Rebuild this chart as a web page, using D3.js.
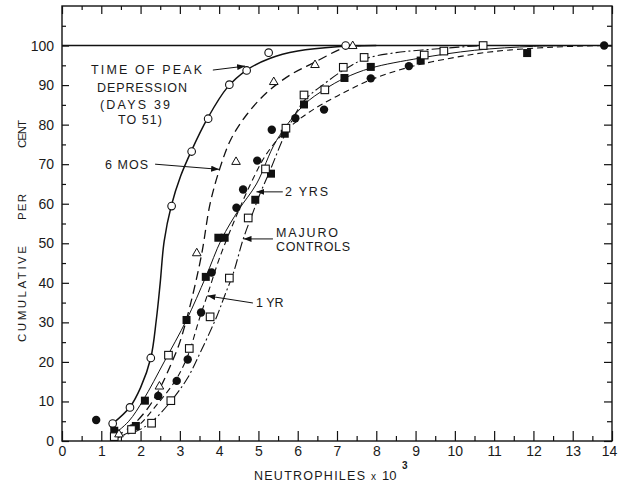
<!DOCTYPE html>
<html>
<head>
<meta charset="utf-8">
<script src="https://cdn.jsdelivr.net/npm/d3@7"></script>
<style>
  body { margin: 0; background: #fff; }
  svg { display: block; }
  text { font-family: "Liberation Sans", "DejaVu Sans", sans-serif; fill: #1a1a1a; }
</style>
</head>
<body>
<div id="chart"></div>
<script>
// observed points, [neutrophiles x10^3, cumulative %]
const peakPts = [[1.29,4.4],[1.73,8.5],[2.26,21],[2.79,59.4],[3.3,73.2],[3.72,81.5],[4.26,90.1],[4.7,93.7],[5.26,98.2],[7.22,100]];
const sixMosPts = [[1.45,1.8],[2.48,13.9],[3.43,47.6],[4.43,70.7],[5.39,90.9],[6.44,95.2],[7.4,100]];
const oneYrPts = [[0.87,5.3],[1.78,3.2],[2.45,11.4],[2.92,15.2],[3.2,20.6],[3.54,32.5],[3.81,42.6],[4.44,59],[4.61,63.6],[4.97,70.9],[5.34,78.7],[5.94,81.6],[6.67,83.8],[7.86,91.7],[8.83,94.8],[13.8,100]];
const twoYrPts = [[1.33,2.6],[1.88,3.8],[2.11,10.2],[3.17,30.6],[3.66,41.5],[3.98,51.4],[4.14,51.4],[4.92,61],[5.32,67.6],[5.67,77.7],[6.16,85.1],[7.19,91.8],[7.86,94.6],[9.13,96.2],[11.84,98.1]];
const majuroPts = [[1.33,1.1],[1.77,2.9],[2.28,4.5],[2.77,10.2],[2.71,21.7],[3.24,23.4],[3.77,31.4],[4.26,41.2],[4.74,56.4],[5.18,68.8],[5.7,79.1],[6.16,87.5],[6.69,88.8],[7.16,94.5],[7.69,97],[9.22,97.6],[9.72,98.6],[10.72,100]];

// fitted curves as drawn
const peakCurve = [[1.29,4.4],[1.73,8.6],[2.0,13.5],[2.26,21],[2.4,30.6],[2.5,40],[2.6,50.5],[2.78,59.4],[3.02,67],[3.3,73.5],[3.7,81.5],[4.2,89.3],[4.7,93.8],[5.3,96.8],[6.0,98.6],[7.0,99.7],[8.0,100]];
const sixMosCurve = [[1.35,1],[1.8,4],[2.2,8.5],[2.5,13.5],[2.8,20],[3.0,25],[3.28,35],[3.55,47],[3.77,60],[4.02,69],[4.3,76.3],[4.7,82.5],[5.2,88],[5.8,92.5],[6.4,95.6],[7.2,99.5],[7.6,100]];
const oneYrCurve = [[1.35,0.5],[1.9,3.5],[2.4,9],[2.9,15.5],[3.2,21.5],[3.5,31],[3.72,37.5],[4.0,46],[4.4,56],[4.8,65],[5.2,72.5],[5.7,78.5],[6.3,83.2],[7.0,87.2],[7.9,91.5],[8.9,94.7],[10,97],[11,98.5],[12.5,99.6],[13.8,100]];
const twoYrCurve = [[1.3,1.5],[1.7,5],[2.07,10.4],[2.6,20],[3.17,30.6],[3.66,41.5],[4.06,51],[4.5,58.5],[4.95,65],[5.46,76],[6.17,85.1],[6.7,89],[7.2,91.8],[7.86,94.3],[9.1,96.8],[10.5,98.8],[12,99.8],[13,100]];
const majuroCurve = [[1.35,1],[1.9,2.5],[2.3,5],[2.8,10.4],[3.2,16],[3.55,23],[3.94,31.5],[4.15,37],[4.36,42.4],[4.61,51],[4.85,57.5],[5.04,62.5],[5.3,68.5],[5.7,78],[6.16,86],[6.7,90.5],[7.2,94],[7.7,96.6],[8.5,98.2],[9.7,99.3],[10.7,100]];

const xTicks = d3.range(0, 15);
const yTicks = d3.range(0, 101, 10);

// labels with arrows, in data units
const labels = [
  { lines: ["TIME OF PEAK", "DEPRESSION", "(DAYS  39", "TO 51)"], from: [3.84, 93.8], to: [4.66, 94.8] },
  { lines: ["6 MOS"], from: [2.37, 70.0], to: [4.0, 68.7] },
  { lines: ["2 YRS"], from: [5.62, 63.0], to: [4.95, 63.0] },
  { lines: ["MAJURO", "CONTROLS"], from: [5.37, 51.1], to: [4.62, 51.1] },
  { lines: ["1 YR"], from: [4.86, 34.9], to: [3.7, 36.7] }
];

const width = 618;
const height = 486;
const margin = { top: 6, left: 62, bottom: 45, right: 6 };

const svg = d3.select("#chart").append("svg")
  .attr("width", width)
  .attr("height", height);

const x = d3.scaleLinear().domain([0, 14]).range([margin.left, width - margin.right]);
const y = d3.scaleLinear().domain([0, 110]).range([height - margin.bottom, margin.top]);

svg.append("defs").append("marker")
  .attr("id", "ah")
  .attr("markerUnits", "userSpaceOnUse")
  .attr("markerWidth", 8).attr("markerHeight", 6)
  .attr("refX", 8).attr("refY", 3)
  .attr("orient", "auto")
  .append("path").attr("d", "M0,0L8,3L0,6Z").attr("fill", "#111");

// frame
svg.append("rect")
  .attr("x", x(0)).attr("y", y(110))
  .attr("width", x(14) - x(0)).attr("height", y(0) - y(110))
  .attr("fill", "none").attr("stroke", "#111").attr("stroke-width", 1.4);

function ticks(axis, tr) {
  const g = svg.append("g").attr("transform", tr).call(axis);
  g.select(".domain").remove();
  g.selectAll("line").attr("stroke", "#111").attr("stroke-width", 1.2);
  g.selectAll("text").style("font-size", "14px").style("font-family", "Liberation Sans").attr("fill", "#1a1a1a");
  return g;
}

const xAx = ticks(d3.axisBottom(x).tickValues(xTicks).tickSizeInner(-10).tickSizeOuter(0).tickPadding(5).tickFormat(d3.format("d")), `translate(0,${y(0)})`);
xAx.selectAll("text").filter(d => d === 14).attr("dx", -3);
ticks(d3.axisBottom(x).tickValues(xTicks.slice(0, -1).map(d => d + 0.5)).tickSize(-5).tickFormat(""), `translate(0,${y(0)})`);
ticks(d3.axisTop(x).tickValues(xTicks).tickSize(-8).tickFormat(""), `translate(0,${y(110)})`);
ticks(d3.axisTop(x).tickValues(xTicks.slice(0, -1).map(d => d + 0.5)).tickSize(-4).tickFormat(""), `translate(0,${y(110)})`);
ticks(d3.axisLeft(y).tickValues(yTicks).tickSizeInner(-7).tickSizeOuter(0).tickPadding(8).tickFormat(d3.format("d")), `translate(${x(0)},0)`);
ticks(d3.axisLeft(y).tickValues(yTicks.map(d => d + 5)).tickSize(-4).tickFormat(""), `translate(${x(0)},0)`);
ticks(d3.axisRight(y).tickValues(yTicks).tickSize(-8).tickFormat(""), `translate(${x(14)},0)`);
ticks(d3.axisRight(y).tickValues(yTicks.map(d => d + 5)).tickSize(-5).tickFormat(""), `translate(${x(14)},0)`);

// 100 per cent line
svg.append("line")
  .attr("x1", x(0)).attr("x2", x(14))
  .attr("y1", y(100)).attr("y2", y(100))
  .attr("stroke", "#111").attr("stroke-width", 1.6);

const line = d3.line()
  .x(d => x(d[0]))
  .y(d => y(d[1]))
  .curve(d3.curveCatmullRom.alpha(0.5));

const curves = [
  { data: peakCurve, dash: null, w: 1.5 },
  { data: sixMosCurve, dash: "9,5", w: 1.3 },
  { data: oneYrCurve, dash: "6,4", w: 1.1 },
  { data: twoYrCurve, dash: null, w: 1.0 },
  { data: majuroCurve, dash: "10,3,2,3", w: 1.1 }
];

curves.forEach(c => {
  svg.append("path")
    .attr("d", line(c.data))
    .attr("fill", "none")
    .attr("stroke", "#111")
    .attr("stroke-width", c.w)
    .attr("stroke-dasharray", c.dash);
});

// markers
svg.selectAll(".oc").data(peakPts).enter().append("circle")
  .attr("cx", d => x(d[0])).attr("cy", d => y(d[1])).attr("r", 3.8)
  .attr("fill", "#fff").attr("stroke", "#111").attr("stroke-width", 1.1);

svg.selectAll(".fc").data(oneYrPts).enter().append("circle")
  .attr("cx", d => x(d[0])).attr("cy", d => y(d[1])).attr("r", 4.2)
  .attr("fill", "#111");

svg.selectAll(".fs").data(twoYrPts).enter().append("rect")
  .attr("x", d => x(d[0]) - 4).attr("y", d => y(d[1]) - 4)
  .attr("width", 8).attr("height", 8)
  .attr("fill", "#111");

svg.selectAll(".os").data(majuroPts).enter().append("rect")
  .attr("x", d => x(d[0]) - 3.8).attr("y", d => y(d[1]) - 3.8)
  .attr("width", 7.6).attr("height", 7.6)
  .attr("fill", "#fff").attr("stroke", "#111").attr("stroke-width", 1.1);

svg.selectAll(".tr").data(sixMosPts).enter().append("path")
  .attr("d", d => {
    const cx = x(d[0]), cy = y(d[1]);
    return `M${cx},${cy - 4.5}L${cx + 4.3},${cy + 3}L${cx - 4.3},${cy + 3}Z`;
  })
  .attr("fill", "#fff").attr("stroke", "#111").attr("stroke-width", 1);

// label text boxes (pixel layout: start x, baseline, width or null)
const labelLayout = [
  [[91, 74, 111], [97, 92, 90], [100, 109, 70], [118, 124, 44]],
  [[105, 169, 43]],
  [[285, 196, 43]],
  [[276, 237, 62], [276, 251, 74]],
  [[256, 307, null]]
];

labels.forEach((l, i) => {
  svg.append("line")
    .attr("x1", x(l.from[0])).attr("y1", y(l.from[1]))
    .attr("x2", x(l.to[0])).attr("y2", y(l.to[1]))
    .attr("stroke", "#111").attr("stroke-width", 1)
    .attr("marker-end", "url(#ah)");
  l.lines.forEach((t, j) => {
    const p = labelLayout[i][j];
    const tx = svg.append("text")
      .attr("x", p[0]).attr("y", p[1])
      .style("font-size", "12.5px")
      .text(t);
    if (p[2]) tx.attr("textLength", p[2]).attr("lengthAdjust", "spacing");
  });
});

// axis titles
[["CUMULATIVE", 294, 96], ["PER", 207, 26], ["CENT", 134, 28]].forEach(t => {
  svg.append("text")
    .attr("transform", `translate(26,${t[1]}) rotate(-90)`)
    .attr("text-anchor", "middle")
    .attr("textLength", t[2]).attr("lengthAdjust", "spacing")
    .style("font-size", "11.5px")
    .text(t[0]);
});

svg.append("text").attr("x", 254).attr("y", 480)
  .attr("textLength", 111).attr("lengthAdjust", "spacing")
  .style("font-size", "12.5px").text("NEUTROPHILES");
svg.append("text").attr("x", 371).attr("y", 480)
  .style("font-size", "10px").text("x");
svg.append("text").attr("x", 382).attr("y", 480)
  .style("font-size", "13px").text("10");
svg.append("text").attr("x", 402).attr("y", 469)
  .style("font-size", "10px").style("font-weight", "bold").text("3");
</script>
</body>
</html>
